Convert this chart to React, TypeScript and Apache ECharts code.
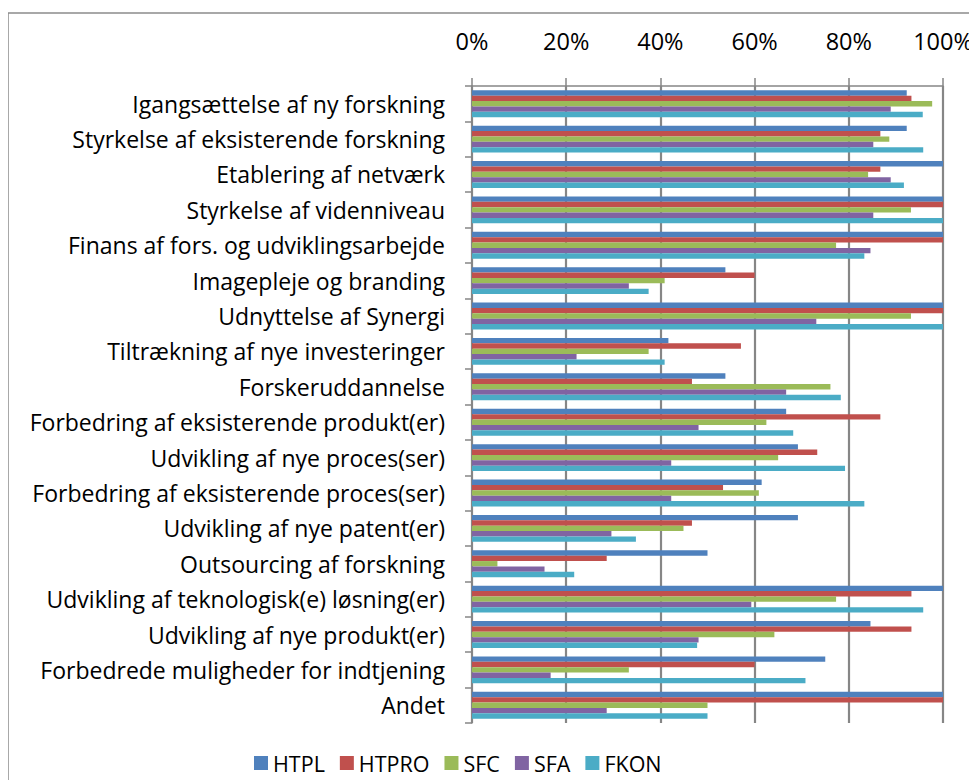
import React, { useEffect, useRef } from "react";
import * as echarts from "echarts";

const categories = [
  "Igangsættelse af ny forskning",
  "Styrkelse af eksisterende forskning",
  "Etablering af netværk",
  "Styrkelse af videnniveau",
  "Finans af fors. og udviklingsarbejde",
  "Imagepleje og branding",
  "Udnyttelse af Synergi",
  "Tiltrækning af nye investeringer",
  "Forskeruddannelse",
  "Forbedring af eksisterende produkt(er)",
  "Udvikling af nye proces(ser)",
  "Forbedring af eksisterende proces(ser)",
  "Udvikling af nye patent(er)",
  "Outsourcing af forskning",
  "Udvikling af teknologisk(e) løsning(er)",
  "Udvikling af nye produkt(er)",
  "Forbedrede muligheder for indtjening",
  "Andet",
];

const HTPL = [92.3, 92.3, 100, 100, 100, 53.8, 100, 41.7, 53.8, 66.7, 69.2, 61.5, 69.2, 50, 100, 84.6, 75, 100];
const HTPRO = [93.3, 86.7, 86.7, 100, 100, 60, 100, 57.1, 46.7, 86.7, 73.3, 53.3, 46.7, 28.6, 93.3, 93.3, 60, 100];
const SFC = [97.7, 88.6, 84.1, 93.2, 77.3, 40.9, 93.2, 37.5, 76.1, 62.5, 65.0, 60.9, 44.9, 5.4, 77.3, 64.2, 33.3, 50];
const SFA = [88.9, 85.2, 88.9, 85.2, 84.6, 33.3, 73.1, 22.2, 66.7, 48.1, 42.3, 42.3, 29.6, 15.4, 59.3, 48.1, 16.7, 28.6];
const FKON = [95.7, 95.8, 91.7, 100, 83.3, 37.5, 100, 40.9, 78.3, 68.2, 79.2, 83.3, 34.8, 21.7, 95.8, 47.8, 70.8, 50];

const seriesNames = ["HTPL", "HTPRO", "SFC", "SFA", "FKON"];
const seriesData = [HTPL, HTPRO, SFC, SFA, FKON];
const colors = ["#4F81BD", "#C0504D", "#9BBB59", "#8064A2", "#4BACC6"];
const xTicks = [0, 20, 40, 60, 80, 100];

const FONT = "'Open Sans', Lato, sans-serif";

export default function App() {
  const ref = useRef<HTMLDivElement>(null);
  useEffect(() => {
    if (!ref.current) return;
    const chart = echarts.init(ref.current, undefined, { renderer: "svg" });
    chart.setOption({
      animation: false,
      backgroundColor: "#ffffff",
      color: colors,
      textStyle: { fontFamily: FONT, color: "#000" },
      graphic: [
        {
          type: "rect",
          shape: { x: 0, y: 5, width: 1100, height: 1100 },
          style: { fill: "none", stroke: "#8c8c8c", lineWidth: 1.5 },
          silent: true,
        },
      ],
      legend: {
        data: seriesNames,
        left: 241,
        top: 739,
        itemWidth: 14,
        itemHeight: 14,
        itemGap: 15,
        icon: "rect",
        textStyle: { fontFamily: FONT, fontSize: 21.5, color: "#000" },
      },
      grid: { left: 464, right: 34, top: 78, bottom: 57 },
      xAxis: {
        type: "value",
        position: "top",
        min: 0,
        max: 100,
        interval: 20,
        axisLine: { show: true, lineStyle: { color: "#868686", width: 1.5 } },
        axisTick: { show: true, length: 8, lineStyle: { color: "#868686", width: 1.5 } },
        splitLine: { show: true, lineStyle: { color: "#868686", width: 2.2 } },
        axisLabel: {
          margin: 33,
          fontFamily: FONT,
          fontSize: 23.5,
          color: "#000",
          formatter: (v: number) => (xTicks.includes(v) ? v + "%" : ""),
        },
      },
      yAxis: {
        type: "category",
        inverse: true,
        data: categories,
        axisLine: { show: true, lineStyle: { color: "#868686", width: 1.5 } },
        axisTick: { show: true, length: 7, lineStyle: { color: "#868686", width: 1.5 } },
        axisLabel: { margin: 27, fontFamily: FONT, fontSize: 23, color: "#000" },
      },
      series: seriesNames.map((n, i) => ({
        name: n,
        type: "bar",
        data: seriesData[i],
        barGap: "0%",
        barCategoryGap: "24%",
        itemStyle: { color: colors[i] },
      })),
    });
    return () => chart.dispose();
  }, []);
  return <div ref={ref} style={{ width: 969, height: 772 }} />;
}
